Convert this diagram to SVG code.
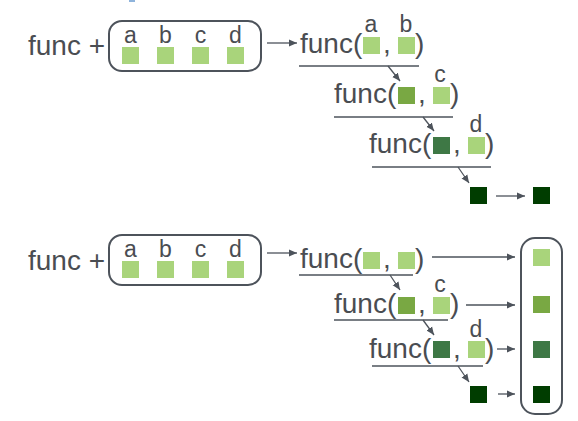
<svg xmlns="http://www.w3.org/2000/svg" width="578" height="421" viewBox="0 0 578 421">
<defs>
<style>
.t{font-family:"Liberation Sans",Arial,sans-serif;fill:#4a4d52}
.big{font-size:28px}
.lbl{font-size:23px;text-anchor:middle}
.box{fill:none;stroke:#4d535b;stroke-width:2}
.ln{stroke:#4d535b;stroke-width:1.6;fill:none}
.arr{stroke:#4d535b;stroke-width:1.3;fill:none;marker-end:url(#ah)}
.g1{fill:#a9d47b}
.g2{fill:#79a843}
.g3{fill:#3e7845}
.g4{fill:#003d00}
</style>
<marker id="ah" markerWidth="9" markerHeight="8" refX="8" refY="4" orient="auto" markerUnits="userSpaceOnUse">
<path d="M0,0.5 L8,4 L0,7.5 Z" fill="#4d535b"/>
</marker>
</defs>
<rect x="129" y="0" width="6" height="2" fill="#8fb4dc"/>

<!-- TOP SECTION -->
<g id="top-input">
<text class="t big" x="28" y="55">func +</text>
<rect class="box" x="109" y="21" width="152" height="50" rx="13"/>
<text class="t lbl" x="130.5" y="43">a</text>
<text class="t lbl" x="165.5" y="43">b</text>
<text class="t lbl" x="200.5" y="43">c</text>
<text class="t lbl" x="235.5" y="43">d</text>
<rect class="g1" x="122" y="47" width="17" height="17"/>
<rect class="g1" x="157" y="47" width="17" height="17"/>
<rect class="g1" x="192" y="47" width="17" height="17"/>
<rect class="g1" x="227" y="47" width="17" height="17"/>
</g>
<g id="top-call1">
<text class="t big" x="300" y="53">func(</text>
<rect class="g1" x="363" y="37" width="17" height="17"/>
<text class="t big" x="383" y="53">,</text>
<rect class="g1" x="398" y="37" width="17" height="17"/>
<text class="t big" x="415" y="53">)</text>
<text class="t lbl" x="371" y="32">a</text>
<text class="t lbl" x="406" y="32">b</text>
</g>
<g id="top-call2">
<text class="t big" x="334" y="103">func(</text>
<rect class="g2" x="398" y="87" width="17" height="17"/>
<text class="t big" x="418" y="103">,</text>
<rect class="g1" x="433" y="87" width="17" height="17"/>
<text class="t big" x="450" y="103">)</text>
<text class="t lbl" x="440" y="82">c</text>
</g>
<g id="top-call3">
<text class="t big" x="369" y="153">func(</text>
<rect class="g3" x="433" y="137" width="17" height="17"/>
<text class="t big" x="453" y="153">,</text>
<rect class="g1" x="468" y="137" width="17" height="17"/>
<text class="t big" x="485" y="153">)</text>
<text class="t lbl" x="476" y="132">d</text>
</g>
<g id="top-result">
<rect class="g4" x="470" y="187" width="17" height="17"/>
</g>
<g id="top-out">
<rect class="g4" x="533" y="187" width="17" height="17"/>
</g>

<!-- BOTTOM SECTION -->
<g id="bot-input">
<text class="t big" x="28" y="270">func +</text>
<rect class="box" x="109" y="235" width="152" height="50" rx="13"/>
<text class="t lbl" x="130.5" y="257">a</text>
<text class="t lbl" x="165.5" y="257">b</text>
<text class="t lbl" x="200.5" y="257">c</text>
<text class="t lbl" x="235.5" y="257">d</text>
<rect class="g1" x="122" y="261" width="17" height="17"/>
<rect class="g1" x="157" y="261" width="17" height="17"/>
<rect class="g1" x="192" y="261" width="17" height="17"/>
<rect class="g1" x="227" y="261" width="17" height="17"/>
</g>
<g id="bot-call1">
<text class="t big" x="300" y="268">func(</text>
<rect class="g1" x="363" y="252" width="17" height="17"/>
<text class="t big" x="383" y="268">,</text>
<rect class="g1" x="398" y="252" width="17" height="17"/>
<text class="t big" x="415" y="268">)</text>
</g>
<g id="bot-call2">
<text class="t big" x="334" y="313">func(</text>
<rect class="g2" x="398" y="297" width="17" height="17"/>
<text class="t big" x="418" y="313">,</text>
<rect class="g1" x="433" y="297" width="17" height="17"/>
<text class="t big" x="450" y="313">)</text>
<text class="t lbl" x="440" y="292">c</text>
</g>
<g id="bot-call3">
<text class="t big" x="369" y="358">func(</text>
<rect class="g3" x="433" y="341" width="17" height="17"/>
<text class="t big" x="453" y="358">,</text>
<rect class="g1" x="468" y="341" width="17" height="17"/>
<text class="t big" x="485" y="358">)</text>
<text class="t lbl" x="476" y="337">d</text>
</g>
<g id="bot-result">
<rect class="g4" x="470" y="386" width="17" height="17"/>
</g>
<g id="bot-out">
<rect class="box" x="521" y="238" width="41" height="176" rx="14"/>
<rect class="g1" x="533" y="249" width="17" height="17"/>
<rect class="g2" x="533" y="296" width="17" height="17"/>
<rect class="g3" x="533" y="341" width="17" height="17"/>
<rect class="g4" x="533" y="386" width="17" height="17"/>
</g>

<g id="connectors">
<!-- top -->
<line class="arr" x1="267" y1="43" x2="297" y2="43"/>
<line class="ln" x1="299" y1="66" x2="419" y2="66"/>
<line class="arr" x1="388" y1="66" x2="400" y2="81"/>
<line class="ln" x1="334" y1="117" x2="453" y2="117"/>
<line class="arr" x1="423" y1="117" x2="434" y2="131"/>
<line class="ln" x1="372" y1="167" x2="491" y2="167"/>
<line class="arr" x1="458" y1="167" x2="469" y2="183"/>
<line class="arr" x1="496" y1="196" x2="525" y2="196"/>
<!-- bottom -->
<line class="arr" x1="267" y1="253" x2="297" y2="253"/>
<line class="ln" x1="299" y1="275" x2="413" y2="275"/>
<line class="arr" x1="390" y1="275" x2="400" y2="290"/>
<line class="ln" x1="334" y1="320" x2="448" y2="320"/>
<line class="arr" x1="423" y1="320" x2="434" y2="335"/>
<line class="ln" x1="372" y1="366" x2="483" y2="366"/>
<line class="arr" x1="458" y1="366" x2="469" y2="382"/>
<line class="arr" x1="432" y1="257" x2="515" y2="257"/>
<line class="arr" x1="466" y1="305" x2="515" y2="305"/>
<line class="arr" x1="497" y1="349" x2="515" y2="349"/>
<line class="arr" x1="498" y1="394" x2="515" y2="394"/>
</g>
</svg>
